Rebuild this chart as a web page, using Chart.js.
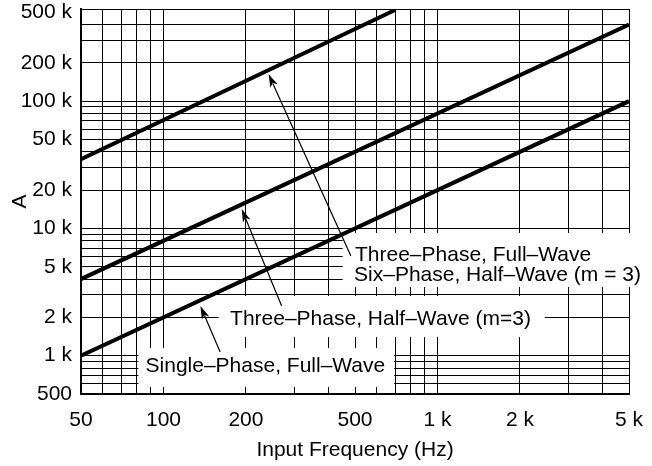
<!DOCTYPE html>
<html>
<head>
<meta charset="utf-8">
<script src="https://cdn.jsdelivr.net/npm/chart.js@4"></script>
<style>
  body { margin: 0; background: #fff; }
  #wrap { width: 652px; height: 466px; }
</style>
</head>
<body>
<div id="wrap"><canvas id="chart"></canvas></div>
<script>
// series (frequency in Hz, current in A)
const freqTop = [50, 700];
const ampTop = [35000, 520000];
const freqMid = [50, 5000];
const ampMid = [4000, 400000];
const freqLow = [50, 5000];
const ampLow = [1000, 100000];

// grid lines and the ones that get a label
const xTicks = [50, 60, 70, 80, 90, 100, 200, 300, 400, 500, 600, 700, 800, 900, 1000, 2000, 3000, 4000, 5000];
const xLabelled = [50, 100, 200, 500, 1000, 2000, 5000];
const yTicks = [500, 600, 700, 800, 900, 1000, 2000, 3000, 4000, 5000, 6000, 7000, 8000, 9000,
  10000, 20000, 30000, 40000, 50000, 60000, 70000, 80000, 90000,
  100000, 200000, 300000, 400000, 500000, 530000];
const yLabelled = [500, 1000, 2000, 5000, 10000, 20000, 50000, 100000, 200000, 500000];

const FONT = '"Liberation Sans", Arial, Helvetica, sans-serif';

function fmt(v) {
  return v >= 1000 ? (v / 1000) + ' k' : String(v);
}
function pts(xs, ys) {
  return xs.map((x, i) => ({ x: x, y: ys[i] }));
}

// labels with white boxes and arrows, placed in data units
const boxes = [
  { x0: 451, x1: 5626, y0: 9200, y1: 3463 },
  { x0: 159, x1: 2462, y0: 2944, y1: 1402 },
  { x0: 81, x1: 695, y0: 1149, y1: 567 }
];
const texts = [
  { x: 500, y: 5575, text: 'Three\u2013Phase, Full\u2013Wave' },
  { x: 496, y: 3881, text: 'Six\u2013Phase, Half\u2013Wave (m = 3)' },
  { x: 175, y: 1741, text: 'Three\u2013Phase, Half\u2013Wave (m=3)' },
  { x: 86, y: 744, text: 'Single\u2013Phase, Full\u2013Wave' }
];
const arrows = [
  { fx: 483, fy: 6067, tx: 242, ty: 163000 },
  { fx: 270, fy: 2456, tx: 193, ty: 14200 },
  { fx: 161, fy: 1069, tx: 136.4, ty: 2456 }
];

const notes = {
  id: 'notes',
  beforeDatasetsDraw(chart) {
    const c = chart.ctx, xs = chart.scales.x, ys = chart.scales.y;
    c.save();
    c.fillStyle = '#fff';
    boxes.forEach(b => {
      const l = xs.getPixelForValue(b.x0), r = xs.getPixelForValue(b.x1);
      const t = ys.getPixelForValue(b.y0), btm = ys.getPixelForValue(b.y1);
      c.fillRect(l, t, r - l, btm - t);
    });
    c.restore();
  },
  afterDatasetsDraw(chart) {
    const c = chart.ctx, xs = chart.scales.x, ys = chart.scales.y;
    c.save();
    c.fillStyle = '#000';
    c.font = '21px ' + FONT;
    c.textBaseline = 'alphabetic';
    c.textAlign = 'left';
    texts.forEach(t => {
      c.fillText(t.text, xs.getPixelForValue(t.x), ys.getPixelForValue(t.y));
    });
    c.strokeStyle = '#000';
    c.lineWidth = 1.2;
    arrows.forEach(a => {
      const x1 = xs.getPixelForValue(a.fx), y1 = ys.getPixelForValue(a.fy);
      const x2 = xs.getPixelForValue(a.tx), y2 = ys.getPixelForValue(a.ty);
      const ang = Math.atan2(y2 - y1, x2 - x1);
      const len = 13, hw = 4;
      c.beginPath();
      c.moveTo(x1, y1);
      c.lineTo(x2 - Math.cos(ang) * len * 0.8, y2 - Math.sin(ang) * len * 0.8);
      c.stroke();
      c.beginPath();
      c.moveTo(x2, y2);
      c.lineTo(x2 - Math.cos(ang) * len + Math.sin(ang) * hw, y2 - Math.sin(ang) * len - Math.cos(ang) * hw);
      c.lineTo(x2 - Math.cos(ang) * len * 0.75, y2 - Math.sin(ang) * len * 0.75);
      c.lineTo(x2 - Math.cos(ang) * len - Math.sin(ang) * hw, y2 - Math.sin(ang) * len + Math.cos(ang) * hw);
      c.closePath();
      c.fill();
    });
    c.restore();
  }
};

const lineStyle = { borderColor: '#000', borderWidth: 4, pointRadius: 0, fill: false, tension: 0 };

new Chart(document.getElementById('chart'), {
  type: 'line',
  data: {
    datasets: [
      Object.assign({ label: 'Three-Phase, Full-Wave / Six-Phase, Half-Wave (m = 3)', data: pts(freqTop, ampTop) }, lineStyle),
      Object.assign({ label: 'Three-Phase, Half-Wave (m=3)', data: pts(freqMid, ampMid) }, lineStyle),
      Object.assign({ label: 'Single-Phase, Full-Wave', data: pts(freqLow, ampLow) }, lineStyle)
    ]
  },
  options: {
    responsive: true,
    maintainAspectRatio: false,
    animation: false,
    layout: { padding: { top: 9, right: 23, left: 0, bottom: 0 } },
    plugins: { legend: { display: false }, tooltip: { enabled: false } },
    scales: {
      x: {
        type: 'logarithmic',
        min: 50,
        max: 5000,
        afterBuildTicks: s => { s.ticks = xTicks.map(v => ({ value: v })); },
        afterFit: s => { s.height = 72; s.paddingLeft = 0; s.paddingRight = 0; },
        ticks: {
          autoSkip: false,
          maxRotation: 0,
          padding: 14,
          color: '#000',
          font: { family: FONT, size: 21 },
          callback: v => xLabelled.includes(v) ? fmt(v) : ''
        },
        grid: { color: '#000', lineWidth: 1, drawTicks: false },
        border: { color: '#000', width: 2 },
        title: {
          display: true,
          text: 'Input Frequency (Hz)',
          color: '#000',
          font: { family: FONT, size: 21 },
          padding: { top: 0, bottom: 3 }
        }
      },
      y: {
        type: 'logarithmic',
        min: 500,
        max: 530000,
        afterBuildTicks: s => { s.ticks = yTicks.map(v => ({ value: v })); },
        afterFit: s => { s.width = 81; s.paddingTop = 0; s.paddingBottom = 0; },
        ticks: {
          autoSkip: false,
          padding: 9,
          color: '#000',
          font: { family: FONT, size: 21 },
          callback: v => yLabelled.includes(v) ? fmt(v) : ''
        },
        grid: {
          color: ctx => (ctx.tick && ctx.tick.value === 500000) ? 'rgba(0,0,0,0)' : '#000',
          lineWidth: 1,
          drawTicks: false
        },
        border: { color: '#000', width: 2 },
        title: {
          display: true,
          text: 'A',
          color: '#000',
          font: { family: FONT, size: 21 },
          padding: { top: 8, bottom: 8 }
        }
      }
    }
  },
  plugins: [notes]
});
</script>
</body>
</html>
